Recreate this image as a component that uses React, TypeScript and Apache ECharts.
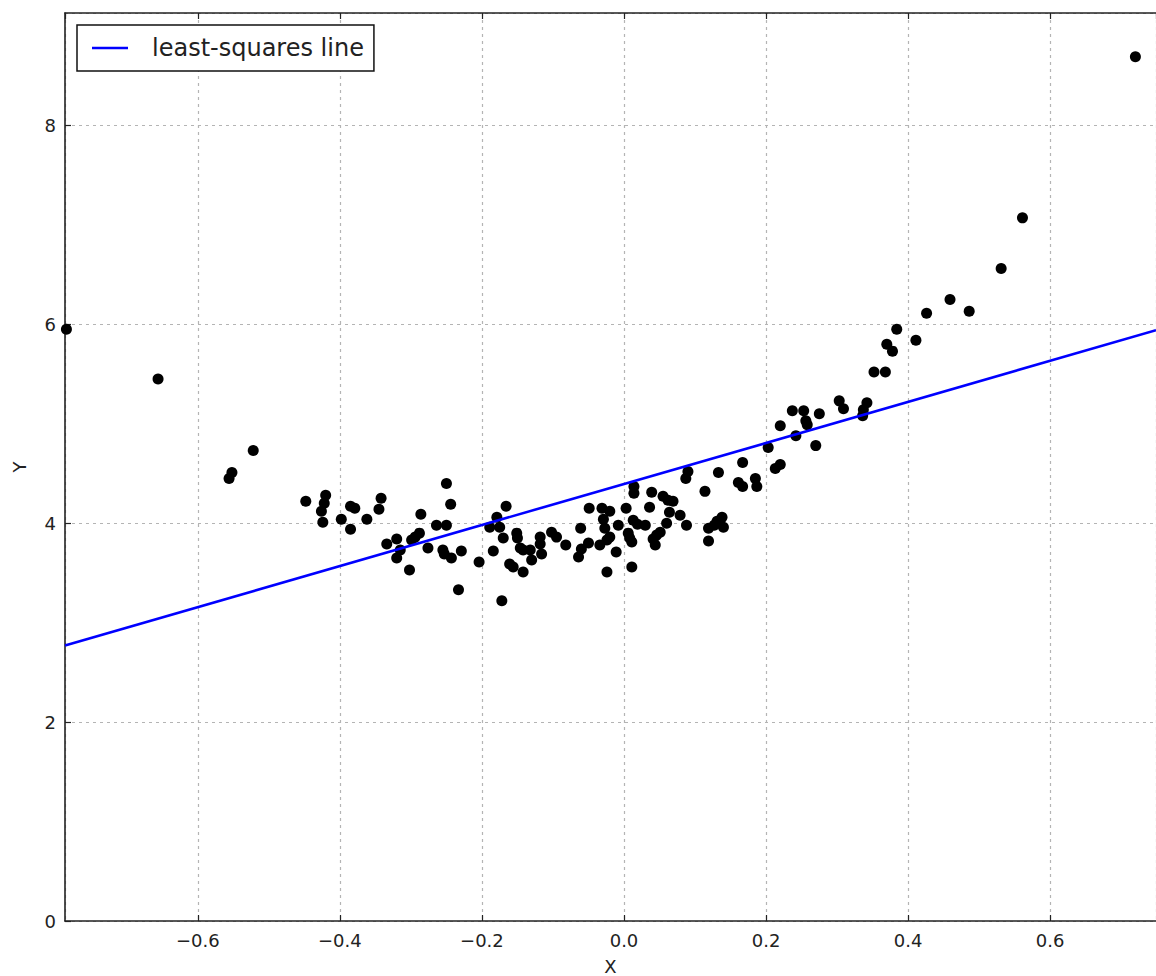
import React, { useEffect, useRef } from "react";
import * as echarts from "echarts";

// Axis ranges and ticks
const X_MIN = -0.787;
const X_MAX = 0.749;
const Y_MIN = 0;
const Y_MAX = 9.13;
const X_TICK_STEP = 0.2;
const Y_TICK_STEP = 2;

// Least-squares line end points
const lineX = [-0.787, 0.749];
const lineY = [2.77, 5.94];

// Scatter points
const scatterX = [
  -0.785, -0.656, -0.556, -0.552, -0.522,
  -0.448, -0.42, -0.422, -0.426, -0.424, -0.385, -0.379, -0.342, -0.345, -0.25,
  -0.244, -0.286, -0.398, -0.362, -0.385, -0.264, -0.25, -0.288, -0.294, -0.299,
  -0.334, -0.32, -0.276, -0.315, -0.255, -0.253, -0.229, -0.32, -0.243, -0.204,
  -0.302, -0.233,
  -0.166, -0.179, -0.189, -0.175, -0.17, -0.151, -0.15, -0.118, -0.118, -0.102,
  -0.095, -0.146, -0.142, -0.132, -0.184, -0.116, -0.13, -0.161, -0.156, -0.142,
  -0.172,
  0.167, 0.133, 0.09, 0.087, 0.161, 0.167, 0.185, 0.187, 0.014, 0.014,
  0.114, 0.039, 0.055, 0.062, 0.069, 0.036, -0.049, -0.031, -0.02, 0.003,
  0.064, 0.079, 0.138, 0.131, -0.029, 0.013, 0.019, 0.03, -0.008, 0.06,
  0.088, -0.061, 0.119, 0.127, 0.14, -0.027, 0.006, 0.008, 0.051, 0.046,
  -0.02, -0.024, 0.041, 0.011, 0.119, -0.082, -0.05, -0.034, 0.044, -0.06,
  -0.064, -0.011, -0.024, 0.011,
  0.203, 0.22, 0.213, 0.22, 0.237, 0.253, 0.275, 0.256, 0.258, 0.242,
  0.27, 0.303, 0.309, 0.342, 0.337, 0.336, 0.352, 0.368, 0.37, 0.378,
  0.384, 0.411, 0.426, 0.459, 0.486, 0.531, 0.561, 0.72,
];
const scatterY = [
  5.95, 5.45, 4.45, 4.51, 4.73,
  4.22, 4.28, 4.2, 4.12, 4.01, 4.17, 4.15, 4.25, 4.14, 4.4,
  4.19, 4.09, 4.04, 4.04, 3.94, 3.98, 3.98, 3.9, 3.86, 3.83,
  3.79, 3.84, 3.75, 3.73, 3.73, 3.69, 3.72, 3.65, 3.65, 3.61,
  3.53, 3.33,
  4.17, 4.06, 3.96, 3.96, 3.85, 3.9, 3.85, 3.86, 3.79, 3.91,
  3.86, 3.75, 3.73, 3.73, 3.72, 3.69, 3.63, 3.59, 3.56, 3.51,
  3.22,
  4.61, 4.51, 4.52, 4.45, 4.41, 4.37, 4.45, 4.37, 4.37, 4.3,
  4.32, 4.31, 4.27, 4.23, 4.22, 4.16, 4.15, 4.15, 4.12, 4.15,
  4.11, 4.08, 4.06, 4.02, 4.04, 4.03, 3.99, 3.98, 3.98, 4.0,
  3.98, 3.95, 3.95, 3.98, 3.96, 3.95, 3.9, 3.85, 3.91, 3.88,
  3.86, 3.83, 3.84, 3.81, 3.82, 3.78, 3.8, 3.78, 3.78, 3.74,
  3.66, 3.71, 3.51, 3.56,
  4.76, 4.98, 4.55, 4.59, 5.13, 5.13, 5.1, 5.03, 4.99, 4.88,
  4.78, 5.23, 5.15, 5.21, 5.14, 5.08, 5.52, 5.52, 5.8, 5.73,
  5.95, 5.84, 6.11, 6.25, 6.13, 6.56, 7.07, 8.69,
];

const LEGEND_NAME = "least-squares line";
const FONT = "'DejaVu Sans', sans-serif";

const fmtX = (v: number) => {
  const s = (Math.round(v * 10) / 10).toFixed(1);
  return s.replace("-", "\u2212");
};

export default function App() {
  const ref = useRef<HTMLDivElement>(null);
  useEffect(() => {
    if (!ref.current) return;
    const chart = echarts.init(ref.current, undefined, { renderer: "svg" });
    const points = scatterX.map((x, i) => [x, scatterY[i]]);
    const linePts = lineX.map((x, i) => [x, lineY[i]]);
    const axisLine = { show: true, onZero: false, lineStyle: { color: "#222", width: 1.6 } };
    const tick = { show: true, inside: true, length: 6, lineStyle: { color: "#222", width: 1.2 } };
    const grid = { show: true, lineStyle: { color: "#b4b4b4", width: 1.2, type: [3, 4] as any } };
    chart.setOption({
      animation: false,
      backgroundColor: "#fff",
      textStyle: { fontFamily: FONT },
      grid: {
        left: 65,
        top: 13,
        right: 0,
        bottom: 55,
        containLabel: false,
        outerBoundsMode: "none",
      },
      legend: {
        left: 77,
        top: 25,
        orient: "vertical",
        data: [{ name: LEGEND_NAME, icon: "rect" }],
        itemWidth: 36,
        itemHeight: 2.5,
        borderColor: "#111",
        borderWidth: 1.5,
        borderRadius: 0,
        padding: [11, 10, 11, 15],
        backgroundColor: "#fff",
        textStyle: { fontSize: 24, color: "#222", fontFamily: FONT, padding: [0, 0, 0, 19] },
      },
      xAxis: [
        {
          type: "value",
          min: X_MIN,
          max: X_MAX,
          splitNumber: 7,
          minInterval: X_TICK_STEP,
          maxInterval: X_TICK_STEP,
          name: "X",
          nameLocation: "middle",
          nameGap: 36,
          nameTextStyle: { fontSize: 18, color: "#222", fontFamily: FONT },
          axisLine,
          axisTick: tick,
          splitLine: grid,
          axisLabel: {
            show: true,
            margin: 10,
            fontSize: 18,
            color: "#222",
            fontFamily: FONT,
            showMinLabel: false,
            showMaxLabel: false,
            formatter: fmtX,
          },
        },
        {
          type: "value",
          position: "top",
          min: X_MIN,
          max: X_MAX,
          splitNumber: 7,
          minInterval: X_TICK_STEP,
          maxInterval: X_TICK_STEP,
          axisLine,
          axisTick: tick,
          splitLine: { show: false },
          axisLabel: { show: false },
        },
      ],
      yAxis: [
        {
          type: "value",
          min: Y_MIN,
          max: Y_MAX,
          interval: Y_TICK_STEP,
          name: "Y",
          nameLocation: "middle",
          nameGap: 37,
          nameRotate: 90,
          nameTextStyle: { fontSize: 18, color: "#222", fontFamily: FONT },
          axisLine,
          axisTick: tick,
          splitLine: grid,
          axisLabel: {
            show: true,
            margin: 9,
            fontSize: 18,
            color: "#222",
            fontFamily: FONT,
            showMaxLabel: false,
            formatter: (v: number) => String(Math.round(v)),
          },
        },
      ],
      series: [
        {
          type: "scatter",
          name: "data",
          data: points,
          symbol: "circle",
          symbolSize: 11,
          itemStyle: { color: "#000", opacity: 1 },
          xAxisIndex: 0,
          yAxisIndex: 0,
          z: 3,
        },
        {
          type: "line",
          name: LEGEND_NAME,
          data: linePts,
          showSymbol: false,
          symbol: "none",
          lineStyle: { color: "#0000ff", width: 2.6 },
          itemStyle: { color: "#0000ff" },
          xAxisIndex: 0,
          yAxisIndex: 0,
          z: 4,
        },
      ],
    });
    return () => chart.dispose();
  }, []);
  return (
    <div
      ref={ref}
      style={{ position: "absolute", left: 0, top: 0, width: 1156, height: 976, background: "#fff" }}
    />
  );
}
